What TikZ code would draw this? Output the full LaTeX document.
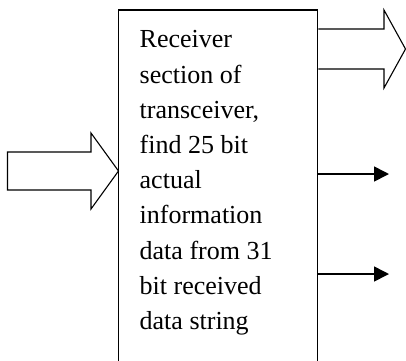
\documentclass[tikz,border=0pt]{standalone}
\usepackage{fontspec}
\setmainfont{Liberation Serif}
\usetikzlibrary{arrows.meta}
\begin{document}
\begin{tikzpicture}[x=1pt,y=-1pt,
  boxstyle/.style={draw,line width=1.6pt,rectangle,minimum width=199pt,minimum height=362pt,inner sep=0pt},
  labelstyle/.style={align=left,inner sep=0pt,font=\fontsize{26}{35.2}\selectfont},
  blockarrow/.style={draw,line width=1.1pt,line join=miter},
  thinarrow/.style={draw,line width=1.6pt,-{Triangle[length=15pt,width=15pt]}}]
\clip (0,0) rectangle (406,360);
\node[boxstyle] (box) at (218,191) {};
\node[labelstyle,anchor=north west] (label) at (139.5,30.5) {Receiver\\section of\\transceiver,\\find 25 bit\\actual\\information\\data from 31\\bit received\\data string};
% input block arrow
\coordinate (intip) at (118.5,171);
\draw[blockarrow] (7.5,152) -- (91,152) -- (91,133) -- (intip) -- (91,209) -- (91,190) -- (7.5,190) -- cycle;
% output block arrow
\coordinate (outtip) at (405.5,49);
\draw[blockarrow] (box.east |- 0,29) -- (384,29) -- (384,10) -- (outtip) -- (384,88) -- (384,69) -- (box.east |- 0,69);
% thin arrows
\coordinate (o1) at (389,174);
\coordinate (o2) at (389,274);
\draw[thinarrow] (box.east |- o1) -- (o1);
\draw[thinarrow] (box.east |- o2) -- (o2);
\end{tikzpicture}
\end{document}
